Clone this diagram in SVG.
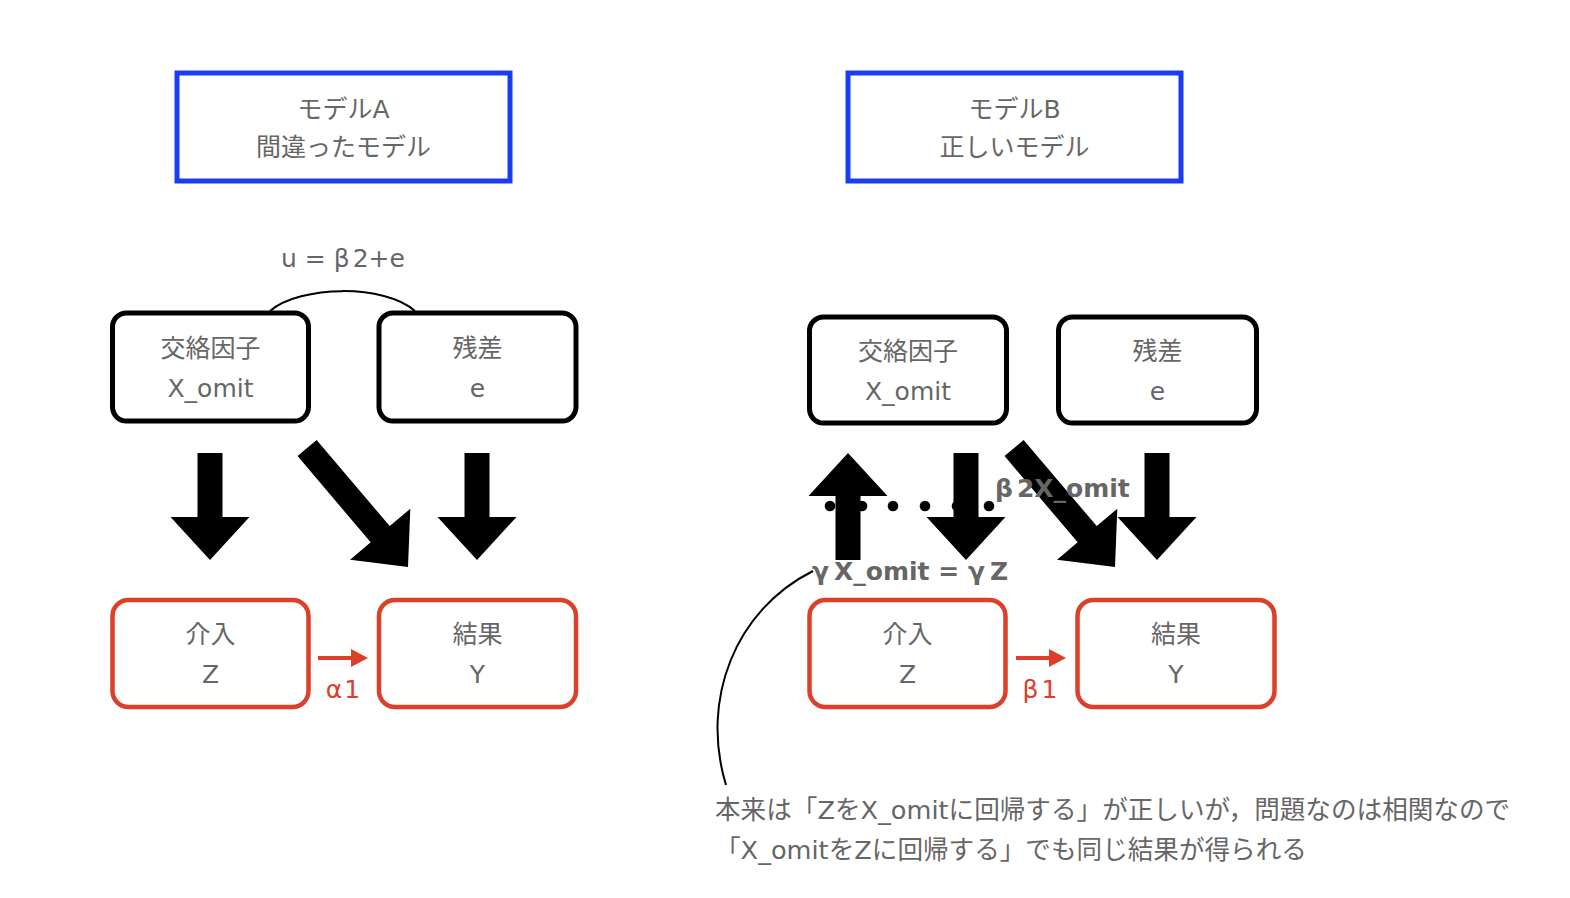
<svg xmlns="http://www.w3.org/2000/svg" xmlns:xlink="http://www.w3.org/1999/xlink" width="1570" height="898" viewBox="0 0 1570 898">
<style>
  text { font-family: "DejaVu Sans", "Noto Sans CJK JP", sans-serif; font-size: 25px; fill: #666666; }
  .c { text-anchor: middle; }
  .b { font-weight: bold; }
  .red { fill: #dc3f2a; }
  .note { font-size: 25.6px; }
  .title { fill: #ffffff; stroke: #1a3cf5; stroke-width: 5; }
  .blk { fill: #ffffff; stroke: #000000; stroke-width: 5; }
  .rnode { fill: #ffffff; stroke: #dc3f2a; stroke-width: 4.5; }
  .thin { fill: none; stroke: #000000; stroke-width: 2; }
  .big { fill: #000000; }
</style>
<defs>
  <path id="arrS" d="M -12.5,-107 L 12.5,-107 L 12.5,-43 L 39.5,-43 L 0,0 L -39.5,-43 L -12.5,-43 Z"/>
  <path id="arrL" d="M -12.5,-156 L 12.5,-156 L 12.5,-43 L 39.5,-43 L 0,0 L -39.5,-43 L -12.5,-43 Z"/>
  <circle id="dot" r="5.3" fill="#000000"/>
</defs>
<rect width="1570" height="898" fill="#ffffff"/>

<g id="titleA">
  <rect class="title" x="177" y="73" width="333" height="108"/>
  <text class="c" x="343.5" y="118">モデルA</text>
  <text class="c" x="343.5" y="156">間違ったモデル</text>
</g>
<g id="titleB">
  <rect class="title" x="848" y="73" width="333" height="108"/>
  <text class="c" x="1014.5" y="118">モデルB</text>
  <text class="c" x="1014.5" y="156">正しいモデル</text>
</g>

<g id="connectors">
  <path class="thin" d="M 270,311 C 300,285 385,284 415,311"/>
  <use href="#arrS" class="big" transform="translate(210,560)"/>
  <use href="#arrL" class="big" transform="translate(408,567) rotate(-40.3)"/>
  <use href="#arrS" class="big" transform="translate(477,560)"/>
  <line x1="318" y1="658" x2="353" y2="658" stroke="#dc3f2a" stroke-width="4"/>
  <polygon points="351,649 368,658 351,667" fill="#dc3f2a"/>

  <use href="#dot" x="830" y="506"/>
  <use href="#dot" x="862" y="506"/>
  <use href="#dot" x="893" y="506"/>
  <use href="#dot" x="925" y="506"/>
  <use href="#dot" x="957" y="506"/>
  <use href="#dot" x="989" y="506"/>
  <use href="#arrS" class="big" transform="translate(848,453) rotate(180)"/>
  <use href="#arrS" class="big" transform="translate(966,560)"/>
  <use href="#arrL" class="big" transform="translate(1115,567) rotate(-40.3)"/>
  <use href="#arrS" class="big" transform="translate(1157,560)"/>
  <line x1="1016" y1="658" x2="1051" y2="658" stroke="#dc3f2a" stroke-width="4"/>
  <polygon points="1049,649 1066,658 1049,667" fill="#dc3f2a"/>
  <path class="thin" d="M 813,571 C 735,610 700,700 726,785"/>
</g>

<g id="labels">
  <text class="c" x="343" y="267">u = β<tspan dx="3">2+e</tspan></text>
  <text class="c red" x="343" y="698">α<tspan dx="2">1</tspan></text>
  <text class="c red" x="1040" y="698">β<tspan dx="3">1</tspan></text>
  <text class="b" x="995" y="497">β<tspan dx="4">2X_omit</tspan></text>
  <text class="b" x="812" y="580">γ<tspan dx="5">X_omit = γ</tspan><tspan dx="5">Z</tspan></text>
</g>

<g id="nodeConfA">
  <rect class="blk" x="112.5" y="313" width="196" height="108" rx="14"/>
  <text class="c" x="210.5" y="357">交絡因子</text>
  <text class="c" x="210.5" y="397">X_omit</text>
</g>
<g id="nodeResA">
  <rect class="blk" x="379" y="313" width="197" height="108" rx="14"/>
  <text class="c" x="477.5" y="357">残差</text>
  <text class="c" x="477.5" y="397">e</text>
</g>
<g id="nodeZA">
  <rect class="rnode" x="112.5" y="600" width="196" height="107" rx="16"/>
  <text class="c" x="210.5" y="643">介入</text>
  <text class="c" x="210.5" y="683">Z</text>
</g>
<g id="nodeYA">
  <rect class="rnode" x="379" y="600" width="197" height="107" rx="16"/>
  <text class="c" x="477.5" y="643">結果</text>
  <text class="c" x="477.5" y="683">Y</text>
</g>

<g id="nodeConfB">
  <rect class="blk" x="809.5" y="317" width="197" height="106" rx="14"/>
  <text class="c" x="908" y="360">交絡因子</text>
  <text class="c" x="908" y="400">X_omit</text>
</g>
<g id="nodeResB">
  <rect class="blk" x="1058.5" y="317" width="198" height="106" rx="14"/>
  <text class="c" x="1157.5" y="360">残差</text>
  <text class="c" x="1157.5" y="400">e</text>
</g>
<g id="nodeZB">
  <rect class="rnode" x="809.5" y="600" width="196" height="107" rx="16"/>
  <text class="c" x="907.5" y="643">介入</text>
  <text class="c" x="907.5" y="683">Z</text>
</g>
<g id="nodeYB">
  <rect class="rnode" x="1077.5" y="600" width="197" height="107" rx="16"/>
  <text class="c" x="1176" y="643">結果</text>
  <text class="c" x="1176" y="683">Y</text>
</g>

<g id="note">
  <text class="note" x="715" y="819">本来は「ZをX_omitに回帰する」が正しいが，問題なのは相関なので</text>
  <text class="note" x="715" y="859">「X_omitをZに回帰する」でも同じ結果が得られる</text>
</g>
</svg>
